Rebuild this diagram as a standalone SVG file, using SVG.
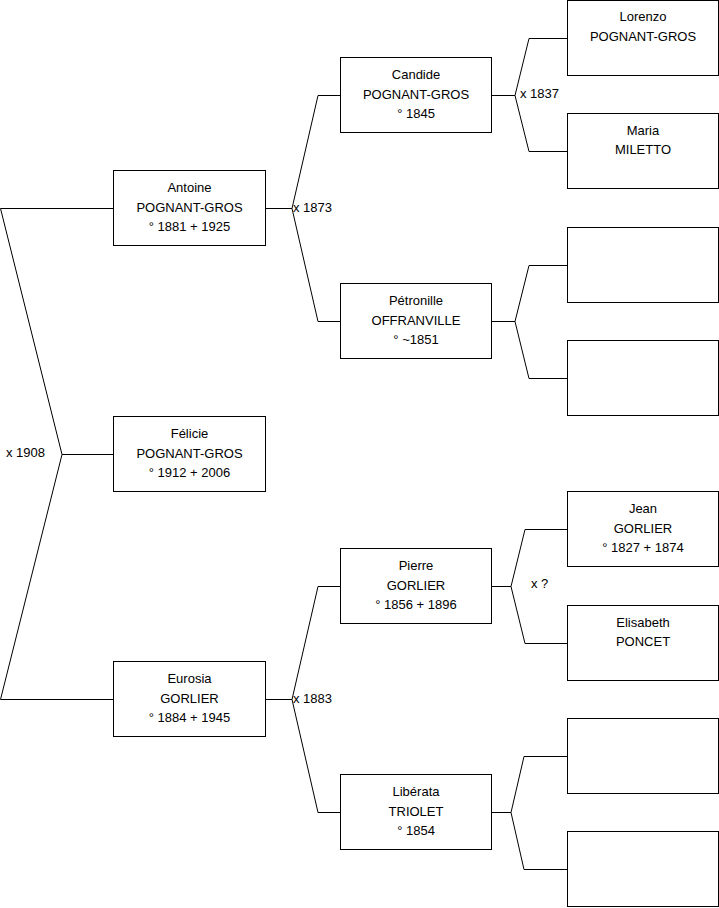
<svg xmlns="http://www.w3.org/2000/svg" width="719" height="908" viewBox="0 0 719 908">
<style>
.box{fill:#fff;stroke:#000;stroke-width:1}
.ln{fill:none;stroke:#000;stroke-width:1}
text{font-family:"Liberation Sans",Arial,sans-serif;font-size:13px;fill:#000}
.c{text-anchor:middle}
</style>
<rect width="719" height="908" fill="#fff"/>
<g id="connectors">
<path class="ln" d="M113.5,208.5 H0.5 L62,454.5 L0.5,699.5 H113.5 M62,454.5 H113.5"/>
<path class="ln" d="M340.5,95.5 H318 L292,208.5 L318,321.5 H340.5 M265.5,208.5 H292"/>
<path class="ln" d="M340.5,586.5 H318 L292,699.5 L318,812.5 H340.5 M265.5,699.5 H292"/>
<path class="ln" d="M567.5,38.5 H529 L515,95.5 L529,151.5 H567.5 M491.5,95.5 H515"/>
<path class="ln" d="M567.5,265.5 H529 L515,321.5 L529,378.5 H567.5 M491.5,321.5 H515"/>
<path class="ln" d="M567.5,529.5 H525 L511,586.5 L525,643.5 H567.5 M491.5,586.5 H511"/>
<path class="ln" d="M567.5,756.5 H524 L511,812.5 L524,869.5 H567.5 M491.5,812.5 H511"/>
<text x="6" y="457">x 1908</text>
<text x="293" y="212">x 1873</text>
<text x="293" y="703">x 1883</text>
<text x="520" y="98">x 1837</text>
<text x="531" y="588">x ?</text>
</g>
<g id="antoine"><rect class="box" x="113.5" y="170.5" width="152" height="75"/>
<text class="c" x="189.5" y="192">Antoine</text><text class="c" x="189.5" y="212">POGNANT-GROS</text><text class="c" x="189.5" y="231">° 1881 + 1925</text></g>
<g id="felicie"><rect class="box" x="113.5" y="416.5" width="152" height="75"/>
<text class="c" x="189.5" y="438">Félicie</text><text class="c" x="189.5" y="458">POGNANT-GROS</text><text class="c" x="189.5" y="477">° 1912 + 2006</text></g>
<g id="eurosia"><rect class="box" x="113.5" y="661.5" width="152" height="75"/>
<text class="c" x="189.5" y="683">Eurosia</text><text class="c" x="189.5" y="703">GORLIER</text><text class="c" x="189.5" y="722">° 1884 + 1945</text></g>
<g id="candide"><rect class="box" x="340.5" y="57.5" width="151" height="75"/>
<text class="c" x="416" y="79">Candide</text><text class="c" x="416" y="99">POGNANT-GROS</text><text class="c" x="416" y="118">° 1845</text></g>
<g id="petronille"><rect class="box" x="340.5" y="283.5" width="151" height="75"/>
<text class="c" x="416" y="305">Pétronille</text><text class="c" x="416" y="325">OFFRANVILLE</text><text class="c" x="416" y="344">° ~1851</text></g>
<g id="pierre"><rect class="box" x="340.5" y="548.5" width="151" height="75"/>
<text class="c" x="416" y="570">Pierre</text><text class="c" x="416" y="590">GORLIER</text><text class="c" x="416" y="609">° 1856 + 1896</text></g>
<g id="liberata"><rect class="box" x="340.5" y="774.5" width="151" height="75"/>
<text class="c" x="416" y="796">Libérata</text><text class="c" x="416" y="816">TRIOLET</text><text class="c" x="416" y="835">° 1854</text></g>
<g id="lorenzo"><rect class="box" x="567.5" y="0.5" width="151" height="75"/>
<text class="c" x="643" y="21">Lorenzo</text><text class="c" x="643" y="41">POGNANT-GROS</text></g>
<g id="maria"><rect class="box" x="567.5" y="113.5" width="151" height="75"/>
<text class="c" x="643" y="135">Maria</text><text class="c" x="643" y="154">MILETTO</text></g>
<g id="empty1"><rect class="box" x="567.5" y="227.5" width="151" height="75"/></g>
<g id="empty2"><rect class="box" x="567.5" y="340.5" width="151" height="75"/></g>
<g id="jean"><rect class="box" x="567.5" y="491.5" width="151" height="75"/>
<text class="c" x="643" y="513">Jean</text><text class="c" x="643" y="533">GORLIER</text><text class="c" x="643" y="552">° 1827 + 1874</text></g>
<g id="elisabeth"><rect class="box" x="567.5" y="605.5" width="151" height="75"/>
<text class="c" x="643" y="627">Elisabeth</text><text class="c" x="643" y="646">PONCET</text></g>
<g id="empty3"><rect class="box" x="567.5" y="718.5" width="151" height="75"/></g>
<g id="empty4"><rect class="box" x="567.5" y="831.5" width="151" height="75"/></g>
</svg>
